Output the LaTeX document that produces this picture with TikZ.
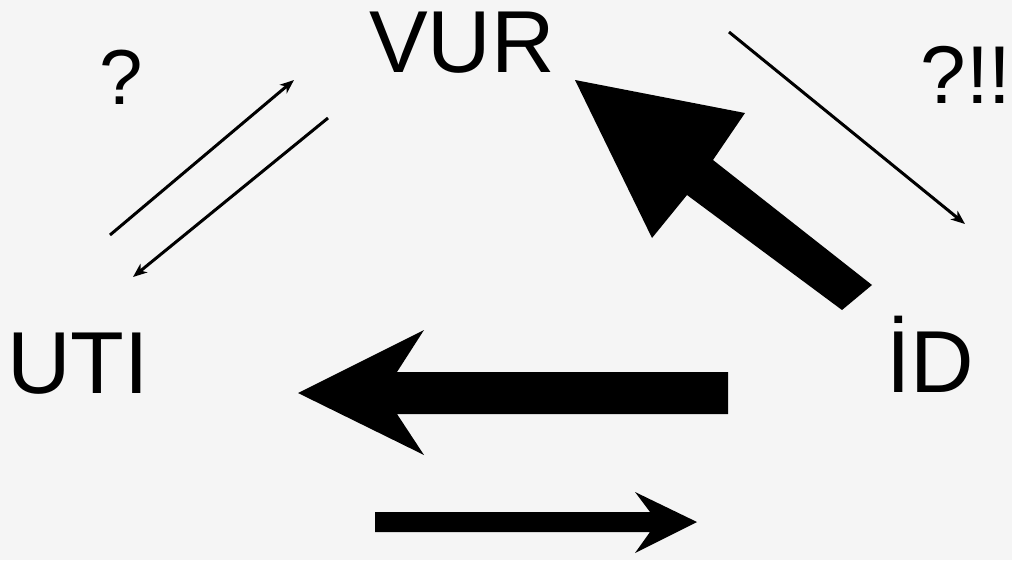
\documentclass[tikz,border=0pt]{standalone}
\usepackage{fontspec}
\setmainfont{Liberation Sans}
\usetikzlibrary{arrows.meta}
\definecolor{bg}{RGB}{245,245,245}
\tikzset{
  lbl/.style={anchor=base, inner sep=0pt, text=black},
  big/.style={lbl, font=\fontsize{88}{90}\selectfont},
  thin/.style={line width=3pt, -{Stealth[length=14pt,width=11pt,inset=4pt]}},
  fat/.style={fill=black, draw=none}
}
\begin{document}
\begin{tikzpicture}[x=1pt,y=-1pt]
\fill[bg] (0,0) rectangle (1012,560);
\useasboundingbox (0,0) rectangle (1012,560);
% labels
\node[big] (vur) at (462,72) {VUR};
\node[big] (uti) at (78,393) {UTI};
\node[big] (id) at (930,392) {İD};
\node[lbl, font=\fontsize{78}{80}\selectfont] (q1) at (121,104) {?};
\node[lbl, font=\fontsize{82}{84}\selectfont] (q2) at (966,103) {?!!};
% thin connectors
\coordinate (a1) at (110,235);
\coordinate (a2) at (294,80);
\coordinate (b1) at (328,118);
\coordinate (b2) at (133,277);
\coordinate (c1) at (729,32);
\coordinate (c2) at (965,224);
\draw[thin] (a1) -- (a2);
\draw[thin] (b1) -- (b2);
\draw[thin] (c1) -- (c2);
% big diagonal arrow
\fill[fat] (575,80) -- (745,113) -- (713,160) -- (872,285) -- (842,310) -- (687,195) -- (652,238) -- cycle;
% big left arrow
\fill[fat] (298,393) -- (424,330) -- (397,372) -- (728,372) -- (728,414) -- (397,414) -- (424,455) -- cycle;
% lower right arrow
\fill[fat] (697,522) -- (635,492) -- (650,512) -- (375,512) -- (375,532) -- (650,532) -- (635,553) -- cycle;
\end{tikzpicture}
\end{document}
